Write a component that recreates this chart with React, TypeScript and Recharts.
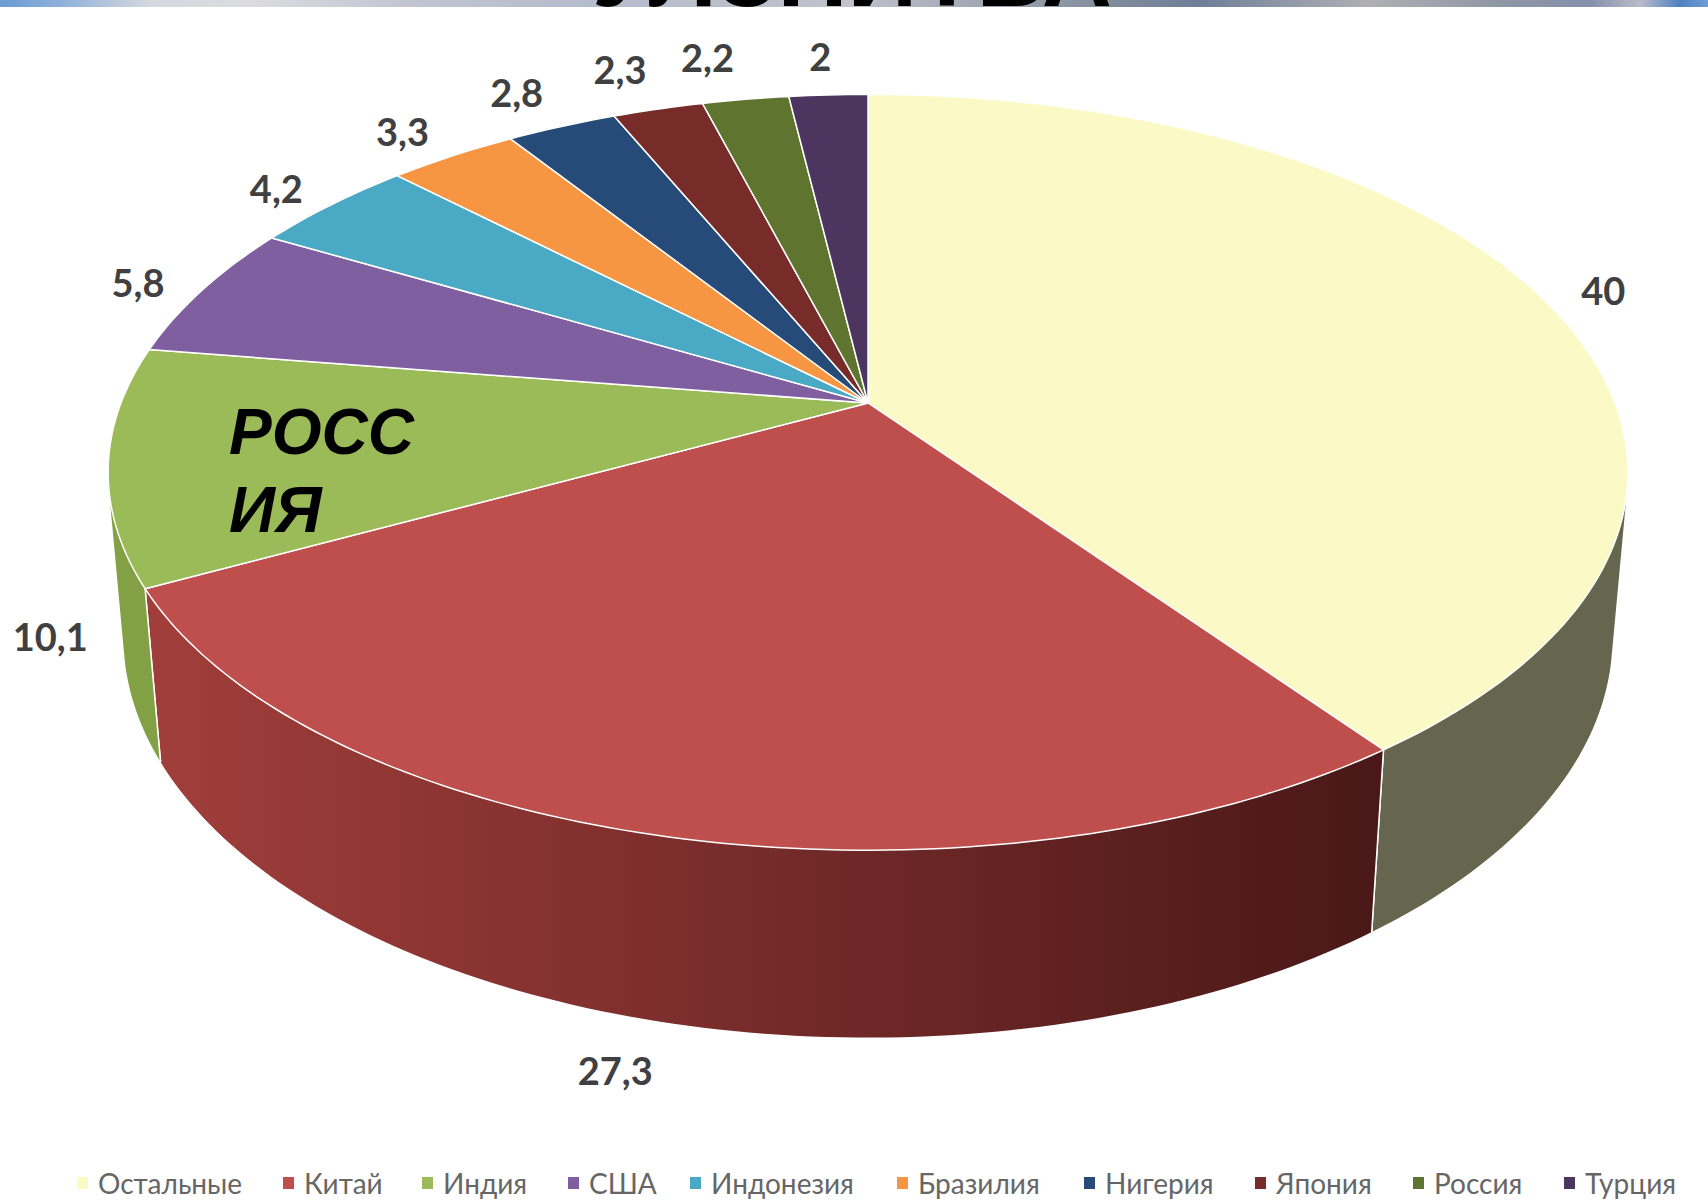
import React from "react";
import { PieChart, Pie, Legend } from "recharts";

const CATEGORIES = ["Остальные", "Китай", "Индия", "США", "Индонезия", "Бразилия", "Нигерия", "Япония", "Россия", "Турция"];
const SHARES = [40, 27.3, 10.1, 5.8, 4.2, 3.3, 2.8, 2.3, 2.2, 2];
const TOP_COLORS = ["#fbfac6", "#bf4f4c", "#9bba58", "#7f5f9f", "#4aa9c4", "#f69643", "#264b78", "#772c2a", "#5f752f", "#4c3660"];
const SIDE_FROM = ["#66664e", "#a03e3b", "#82a044", "#5f4777", "#377f93", "#b87032", "#1c385a", "#59211f", "#475723", "#392848"];
const SIDE_TO = ["#66664e", "#4a1818", "#7f9c42", "#5f4777", "#377f93", "#b87032", "#1c385a", "#59211f", "#475723", "#392848"];

// label offsets from the rim of the top face, in px
const LABEL_OFFSETS = [[63, -6], [-46, 234], [-58, 171], [-64, -8], [-55, -17], [-50, -25], [-45, -34], [-38, -40], [-38, -42], [-8, -39]];
const LEGEND_LEFT = [77, 283, 422, 568, 690, 897, 1084, 1255, 1413, 1564];

const tableData = CATEGORIES.map((name, i) => ({ name, value: SHARES[i], fill: TOP_COLORS[i] }));

// perspective of the tilted disc
const TILT = 0.1833;
const SQUASH = 0.4889;
const DROP = 0.2219;
const DEPTH_W = 0.02;

function project(cx: number, cy: number, r: number, deg: number, z: number) {
  const a = (deg * Math.PI) / 180;
  const u = Math.cos(a);
  const v = Math.sin(a);
  const w = 1 + TILT * v + DEPTH_W * z;
  return [cx + (r * u) / w, cy + (-r * SQUASH * v + z * r * DROP) / w];
}

function arcPoints(p: any, z: number) {
  const pts: number[][] = [];
  const steps = Math.max(4, Math.ceil(Math.abs(p.endAngle - p.startAngle)));
  for (let i = 0; i <= steps; i++) {
    const deg = p.startAngle + ((p.endAngle - p.startAngle) * i) / steps;
    pts.push(project(p.cx, p.cy, p.outerRadius, deg, z));
  }
  return pts;
}

const toPath = (pts: number[][]) => "M" + pts.map((q) => `${q[0].toFixed(2)},${q[1].toFixed(2)}`).join("L") + "Z";

function TopFace(props: any) {
  const pts = [[props.cx, props.cy], ...arcPoints(props, 0)];
  return <path d={toPath(pts)} fill={props.fill} stroke="#ffffff" strokeWidth={1.5} strokeLinejoin="round" />;
}

// keep every quad wound the same way so they merge under the nonzero fill rule
function wound(quad: number[][]) {
  let area = 0;
  quad.forEach((q, i) => {
    const n = quad[(i + 1) % quad.length];
    area += q[0] * n[1] - n[0] * q[1];
  });
  return area < 0 ? [...quad].reverse() : quad;
}

// the wall is a run of small quads, so the outline gets the straight tangent edges of a cylinder
function SideFace(props: any) {
  const i = CATEGORIES.indexOf(props.name);
  const upper = arcPoints(props, 0);
  const lower = arcPoints(props, 1);
  const id = `side-${i}`;
  const last = upper.length - 1;
  const wall = upper
    .slice(0, last)
    .map((q, k) => toPath(wound([q, upper[k + 1], lower[k + 1], lower[k]])))
    .join("");
  return (
    <g>
      <defs>
        <linearGradient id={id} gradientUnits="userSpaceOnUse" x1={160} x2={1375} y1={0} y2={0}>
          <stop offset="0" stopColor={SIDE_FROM[i]} />
          <stop offset="1" stopColor={SIDE_TO[i]} />
        </linearGradient>
      </defs>
      <path d={wall} fill={`url(#${id})`} />
      <path d={toPath([upper[0], lower[0]])} stroke="#ffffff" strokeWidth={1.5} fill="none" />
      <path d={toPath([upper[last], lower[last]])} stroke="#ffffff" strokeWidth={1.5} fill="none" />
    </g>
  );
}

function SliceLabel(props: any) {
  const off = LABEL_OFFSETS[props.index];
  const rim = project(props.cx, props.cy, props.outerRadius, props.midAngle, 0);
  return (
    <text
      x={rim[0] + off[0]}
      y={rim[1] + off[1]}
      textAnchor="middle"
      dominantBaseline="central"
      fontFamily="Lato, 'Open Sans', sans-serif"
      fontWeight={700}
      fontSize={38}
      fill="#404040"
    >
      {String(props.value).replace(".", ",")}
    </text>
  );
}

function LegendRow({ payload }: any) {
  const items = (payload || []).filter((p: any) => p.type !== "none");
  return (
    <div style={{ position: "relative", height: 50, fontFamily: "Lato, 'Open Sans', sans-serif", fontSize: 28, color: "#666666" }}>
      {items.map((p: any, i: number) => (
        <div key={p.value} style={{ position: "absolute", left: LEGEND_LEFT[i], top: 12, display: "flex", alignItems: "center", whiteSpace: "nowrap" }}>
          <span style={{ width: 11, height: 12, background: TOP_COLORS[i], marginRight: 10 }} />
          {p.value}
        </div>
      ))}
    </div>
  );
}

export default function App() {
  return (
    <div style={{ position: "absolute", left: 0, top: 0, width: 1708, height: 1204, background: "#ffffff", overflow: "hidden" }}>
      <div
        style={{
          position: "absolute",
          left: 0,
          top: 0,
          width: 1708,
          height: 7,
          overflow: "hidden",
          background:
            "linear-gradient(90deg,#6c9bd6 0,#8fb0da 60px,#d5d8de 150px,#dcdce0 250px,#c0c4d0 420px,#b5bccb 590px,#c0c2cc 850px,#818c9b 1110px,#6f7f98 1200px,#b0b0b4 1370px,#8f96a4 1500px,#8590ac 1590px,#b8bcc8 1640px,#4f80c0 1680px,#6f9ed8 1708px)",
        }}
      >
        <div style={{ position: "absolute", left: 592, bottom: -1, fontFamily: "'Liberation Sans', Arial, sans-serif", fontWeight: 700, fontSize: 97, lineHeight: "70px", color: "#000000", whiteSpace: "nowrap" }}>
          УЛЗНИТВА
        </div>
      </div>
      <PieChart width={1708} height={1204} margin={{ top: 0, right: 0, bottom: 0, left: 0 }}>
        <Pie data={tableData} dataKey="value" nameKey="name" cx={868} cy={403} outerRadius={747} startAngle={90} endAngle={-270} shape={SideFace} legendType="none" isAnimationActive={false} />
        <Pie data={tableData} dataKey="value" nameKey="name" cx={868} cy={403} outerRadius={747} startAngle={90} endAngle={-270} shape={TopFace} label={SliceLabel} labelLine={false} isAnimationActive={false} />
        <Legend verticalAlign="bottom" itemSorter={null} content={<LegendRow />} wrapperStyle={{ left: 0, width: 1708, bottom: 0, height: 50 }} />
      </PieChart>
      <div style={{ position: "absolute", left: 229, top: 393, fontFamily: "'Liberation Sans', Arial, sans-serif", fontWeight: 700, fontStyle: "italic", fontSize: 64, lineHeight: "78px", color: "#000000" }}>
        РОСС
        <br />
        ИЯ
      </div>
    </div>
  );
}
